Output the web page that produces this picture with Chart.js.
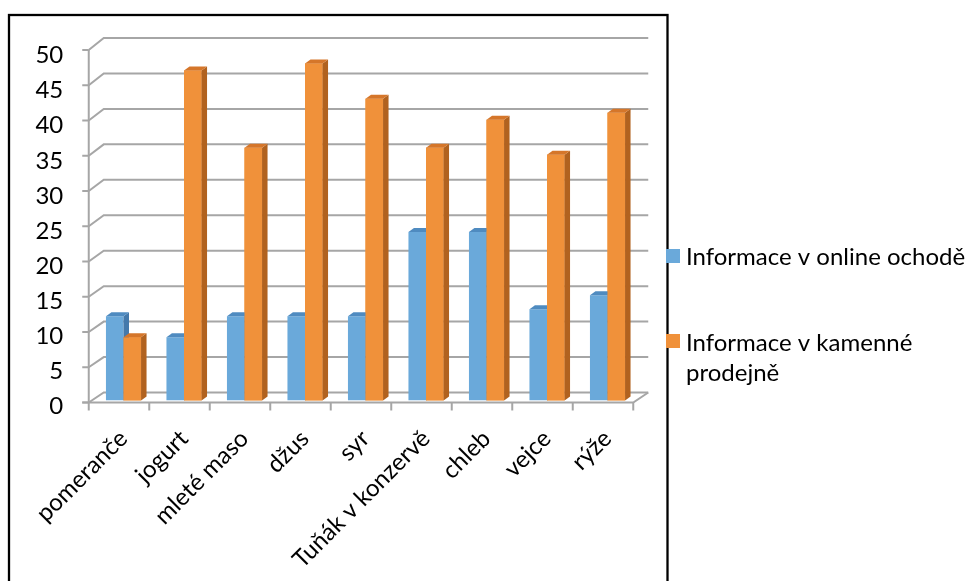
<!DOCTYPE html>
<html>
<head>
<meta charset="utf-8">
<script src="https://cdn.jsdelivr.net/npm/chart.js@4/dist/chart.umd.min.js"></script>
<style>
  html, body { margin: 0; padding: 0; background: #ffffff; }
  #wrap { position: relative; width: 976px; height: 581px; }
</style>
</head>
<body>
<div id="wrap"><canvas id="chart" width="976" height="581"></canvas></div>
<script>
// Potraviny a počet respondentů podle zdroje informací
const categories = ['pomeranče', 'jogurt', 'mleté maso', 'džus', 'syr', 'Tuňák v konzervě', 'chleb', 'vejce', 'rýže'];
const onlineShop = [12, 9, 12, 12, 12, 24, 24, 13, 15];
const brickStore = [9, 47, 36, 48, 43, 36, 40, 35, 41];
const seriesLabels = ['Informace v online ochodě', 'Informace v kamenné prodejně'];
const yMin = 0;
const yMax = 50;
const yStep = 5;

const FONT = 'Lato';
const FONT_SIZE = 24;
const GRID = '#a6a6a6';

const palette = [
  { front: '#6aa9da', top: '#4f8bc0', side: '#4479ab' },
  { front: '#f0913a', top: '#d5762a', side: '#b1621f' }
];

// pseudo-3D helpers: front and back planes of the plot box
const FRONT_DX = -4.5;
const BACK_DX = 10.5;
function frontY(scale, v) { return scale.getPixelForValue(v) + 2 - 1.5 * (v / yMax); }
function backY(scale, v) { return scale.getPixelForValue(v) - 8 - 3.5 * (v / yMax); }

const plot3d = {
  id: 'plot3d',
  beforeDraw(chart) {
    const ctx = chart.ctx;
    ctx.save();
    ctx.fillStyle = '#ffffff';
    ctx.fillRect(0, 0, chart.width, chart.height);
    ctx.strokeStyle = '#000000';
    ctx.lineWidth = 2.3;
    ctx.strokeRect(9, 15, 658.5, 620);
    ctx.restore();
  },
  beforeDatasetsDraw(chart) {
    const ctx = chart.ctx;
    const y = chart.scales.y;
    const area = chart.chartArea;
    const fl = area.left + FRONT_DX, fr = area.right + FRONT_DX;
    const bl = area.left + BACK_DX, br = area.right + BACK_DX;
    ctx.save();
    ctx.strokeStyle = GRID;
    ctx.lineWidth = 2;
    ctx.lineCap = 'butt';
    // back wall gridlines and left wall diagonals
    for (let v = yMin; v <= yMax; v += yStep) {
      const fy = frontY(y, v), by = backY(y, v);
      ctx.beginPath();
      ctx.moveTo(fl, fy);
      ctx.lineTo(bl, by);
      ctx.lineTo(br, by);
      ctx.stroke();
      // tick mark on the value axis
      ctx.beginPath();
      ctx.moveTo(fl - 6.5, fy);
      ctx.lineTo(fl, fy);
      ctx.stroke();
    }
    // value axis line
    ctx.beginPath();
    ctx.moveTo(fl, frontY(y, yMax));
    ctx.lineTo(fl, frontY(y, yMin));
    ctx.stroke();
    // floor front edge and right edge
    const f0 = frontY(y, yMin), b0 = backY(y, yMin);
    ctx.beginPath();
    ctx.moveTo(fl - 6.5, f0);
    ctx.lineTo(fr, f0);
    ctx.lineTo(br, b0);
    ctx.stroke();
    // category tick marks
    const n = categories.length;
    const w = (area.right - area.left) / n;
    for (let i = 0; i <= n; i++) {
      const tx = fl + i * w;
      ctx.beginPath();
      ctx.moveTo(tx, f0);
      ctx.lineTo(tx, f0 + 8);
      ctx.stroke();
    }
    ctx.restore();
  },
  afterDatasetsDraw(chart) {
    const ctx = chart.ctx;
    const dx = 5.5, dy = 4;
    const metas = [chart.getDatasetMeta(0), chart.getDatasetMeta(1)];
    const extras = (el, colors) => {
      const p = el.getProps(['x', 'y', 'base', 'width'], true);
      const x1 = p.x - p.width / 2, x2 = p.x + p.width / 2;
      const top = Math.min(p.y, p.base), base = Math.max(p.y, p.base);
      ctx.fillStyle = colors.side;
      ctx.beginPath();
      ctx.moveTo(x2, top);
      ctx.lineTo(x2 + dx, top - dy);
      ctx.lineTo(x2 + dx, base - dy);
      ctx.lineTo(x2, base);
      ctx.closePath();
      ctx.fill();
      ctx.fillStyle = colors.top;
      ctx.beginPath();
      ctx.moveTo(x1, top);
      ctx.lineTo(x2, top);
      ctx.lineTo(x2 + dx, top - dy);
      ctx.lineTo(x1 + dx, top - dy);
      ctx.closePath();
      ctx.fill();
    };
    ctx.save();
    for (let i = 0; i < categories.length; i++) {
      extras(metas[0].data[i], palette[0]);
      metas[1].data[i].draw(ctx, chart.chartArea);
      extras(metas[1].data[i], palette[1]);
    }
    ctx.restore();
  },
  afterDraw(chart) {
    const ctx = chart.ctx;
    ctx.save();
    ctx.font = FONT_SIZE + 'px ' + FONT;
    ctx.textBaseline = 'alphabetic';
    ctx.textAlign = 'left';
    const maxW = 288;
    const items = [
      { sy: 249, baseline: 265 },
      { sy: 334, baseline: 350.7 }
    ];
    chart.data.datasets.forEach((ds, i) => {
      const it = items[i];
      ctx.fillStyle = palette[i].front;
      ctx.fillRect(666, it.sy, 14, 14);
      // word wrap
      const words = ds.label.split(' ');
      const lines = [];
      let line = '';
      words.forEach(wd => {
        const test = line ? line + ' ' + wd : wd;
        if (ctx.measureText(test).width > maxW && line) { lines.push(line); line = wd; }
        else line = test;
      });
      lines.push(line);
      ctx.fillStyle = '#000000';
      lines.forEach((ln, k) => ctx.fillText(ln, 686, it.baseline + k * 30.3));
    });
    ctx.restore();
  }
};

new Chart(document.getElementById('chart'), {
  type: 'bar',
  data: {
    labels: categories,
    datasets: [
      { label: seriesLabels[0], data: onlineShop, backgroundColor: palette[0].front, borderWidth: 0,
        categoryPercentage: 0.58, barPercentage: 1.0 },
      { label: seriesLabels[1], data: brickStore, backgroundColor: palette[1].front, borderWidth: 0,
        categoryPercentage: 0.58, barPercentage: 1.0 }
    ]
  },
  options: {
    responsive: false,
    animation: false,
    devicePixelRatio: 1,
    layout: { padding: { top: 49.5, right: 338.25, bottom: 0, left: 0 } },
    plugins: {
      legend: { display: false },
      tooltip: { enabled: false },
      title: { display: false }
    },
    scales: {
      x: {
        type: 'category',
        offset: true,
        grid: { display: false, drawTicks: false },
        border: { display: false },
        ticks: {
          autoSkip: false,
          minRotation: 45,
          maxRotation: 45,
          padding: 24,
          color: '#000000',
          font: { family: FONT, size: FONT_SIZE }
        },
        afterFit(scale) { scale.height = 180.5; }
      },
      y: {
        min: yMin,
        max: yMax,
        grid: { display: false, drawTicks: false },
        border: { display: false },
        ticks: {
          stepSize: yStep,
          padding: 30,
          labelOffset: 6,
          color: '#000000',
          font: { family: FONT, size: FONT_SIZE }
        },
        afterFit(scale) { scale.width = 93.25; }
      }
    }
  },
  plugins: [plot3d]
});
</script>
</body>
</html>
